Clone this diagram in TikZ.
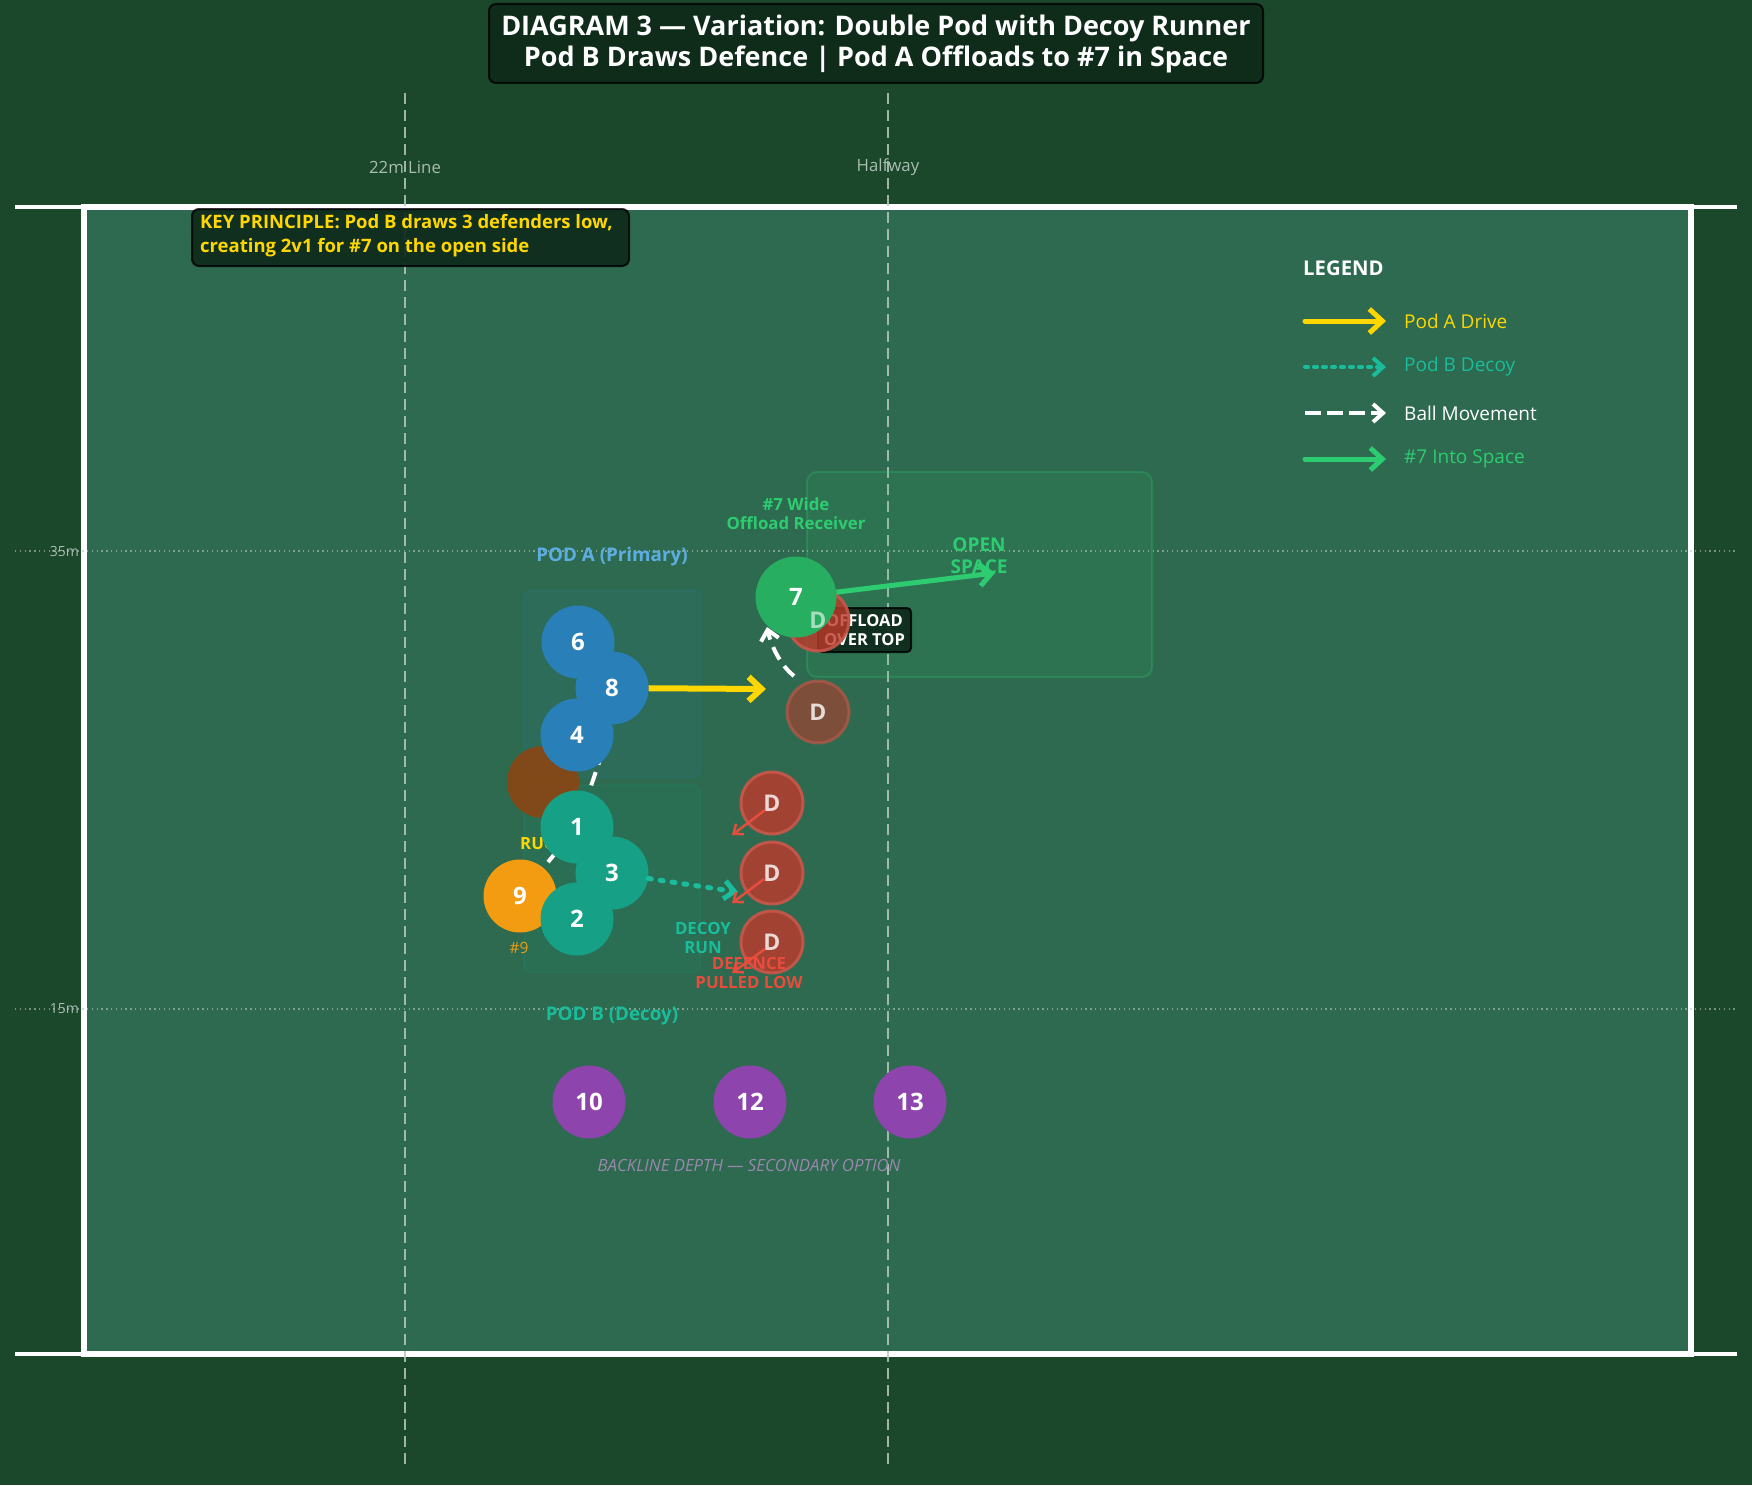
\documentclass[tikz,border=0pt]{standalone}
\usepackage{fontspec}
\setmainfont{Open Sans}
\usetikzlibrary{arrows.meta,calc}
\definecolor{bgout}{HTML}{1B472B}
\definecolor{fieldc}{HTML}{2D6A4F}
\definecolor{boxdark}{HTML}{0E2A1A}
\definecolor{podA}{HTML}{2980B9}
\definecolor{podB}{HTML}{16A085}
\definecolor{ninec}{HTML}{F39C12}
\definecolor{ruckc}{HTML}{8B4513}
\definecolor{dred}{HTML}{C0392B}
\definecolor{arrred}{HTML}{E74C3C}
\definecolor{purp}{HTML}{8E44AD}
\definecolor{sevenc}{HTML}{27AE60}
\definecolor{lgreen}{HTML}{2ECC71}
\definecolor{goldc}{HTML}{FFD700}
\definecolor{lblue}{HTML}{5DADE2}
\definecolor{tealc}{HTML}{1ABC9C}
\definecolor{linegray}{HTML}{B8C8BE}
\definecolor{lblgray}{HTML}{A9BDB0}
\definecolor{backc}{HTML}{9A87AE}
\tikzset{
  player/.style={circle, minimum size=73pt, inner sep=0pt, text=white, font=\bfseries\fontsize{24}{24}\selectfont},
  dcirc/.style={circle, minimum size=62pt, inner sep=0pt, fill=dred, fill opacity=0.8, draw=dred!85!white, draw opacity=0.9, line width=3pt, text=white, text opacity=0.8, font=\bfseries\fontsize{23}{23}\selectfont},
  dlet/.style={text=white, text opacity=0.6, font=\bfseries\fontsize{23}{23}\selectfont, inner sep=0pt},
  yard/.style={linegray, line width=2.5pt, dash pattern=on 11pt off 6pt, opacity=0.85},
  mline/.style={linegray, line width=1.3pt, dash pattern=on 1.4pt off 3.4pt, opacity=0.6},
  drive/.style={goldc, line width=6pt, -{Straight Barb[length=13pt,width=24pt]}},
  decoy/.style={tealc, line width=5pt, line cap=round, dash pattern=on 3pt off 9pt, -{Straight Barb[length=10pt,width=18pt]}},
  balldash/.style={white, line width=4pt, dash pattern=on 14pt off 8pt},
  ballarrow/.style={balldash, -{Straight Barb[length=10pt,width=18pt]}},
  space/.style={lgreen, line width=5pt, -{Straight Barb[length=12pt,width=22pt]}},
  pull/.style={arrred, line width=2.5pt, -{Straight Barb[length=8pt,width=13pt]}},
  darkbox/.style={fill=boxdark, fill opacity=0.92, draw=black, draw opacity=0.8, line width=2pt, rounded corners=7pt, text opacity=1},
  lbl/.style={inner sep=0pt, font=\bfseries\fontsize{16.8}{19}\selectfont, align=center},
}
\begin{document}
\begin{tikzpicture}[x=1pt,y=-1pt]
\fill[bgout] (0,0) rectangle (1752,1485);
\useasboundingbox (0,0) rectangle (1752,1485);
% field
\fill[fieldc] (84,207) rectangle (1691,1354);
\draw[white, line width=4.5pt] (15,207) -- (1737,207);
\draw[white, line width=4.5pt] (15,1354) -- (1737,1354);
\draw[white, line width=5.5pt] (84,207) rectangle (1691,1354);
% metre lines
\draw[mline] (15,551) -- (1737,551);
\draw[mline] (15,1009) -- (1737,1009);
\node[anchor=east, inner sep=0pt, text=lblgray, font=\fontsize{14}{14}\selectfont] (m35) at (79,551) {35m};
\node[anchor=east, inner sep=0pt, text=lblgray, font=\fontsize{14}{14}\selectfont] (m15) at (79,1009) {15m};
% yard lines
\draw[yard] (405,93) -- (405,1469);
\draw[yard] (888,93) -- (888,1469);
\node[text=lblgray, inner sep=0pt, font=\fontsize{16.8}{17}\selectfont] (l22) at (405,167) {22m Line};
\node[text=lblgray, inner sep=0pt, font=\fontsize{16.8}{17}\selectfont] (lhalf) at (888,167) {Halfway};
% zone boxes
\draw[rounded corners=6pt, fill=podA, fill opacity=0.1, draw=podA, draw opacity=0.15, line width=1.5pt] (524,590) rectangle (700,777);
\draw[rounded corners=6pt, fill=podB, fill opacity=0.1, draw=podB, draw opacity=0.15, line width=1.5pt] (524,785) rectangle (700,972);
\draw[rounded corners=10pt, fill=lgreen, fill opacity=0.1, draw=lgreen, draw opacity=0.25, line width=2pt] (807,472) rectangle (1152,677);
% title
\node[darkbox, minimum width=774pt, minimum height=79pt, align=center, text=white, font=\bfseries\fontsize{27}{31}\selectfont] (title) at (876,43.5) {DIAGRAM 3 — Variation: Double Pod with Decoy Runner\\Pod B Draws Defence | Pod A Offloads to \#7 in Space};
% key principle
\node[darkbox, anchor=north west, minimum width=437pt, minimum height=57pt] (key) at (191,208) {};
\node[anchor=west, inner sep=0pt, align=left, text=goldc, font=\bfseries\fontsize{18.5}{24}\selectfont] (keytxt) at (200,236) {KEY PRINCIPLE: Pod B draws 3 defenders low,\\creating 2v1 for \#7 on the open side};
% legend
\node[anchor=west, inner sep=0pt, text=white, font=\bfseries\fontsize{20.3}{21}\selectfont] (legend) at (1303,268) {LEGEND};
\coordinate (la1) at (1305,321); \coordinate (la2) at (1386,321);
\coordinate (lb1) at (1305,367); \coordinate (lb2) at (1386,367);
\coordinate (lc1) at (1305,413); \coordinate (lc2) at (1386,413);
\coordinate (ld1) at (1305,459); \coordinate (ld2) at (1386,459);
\draw[drive, line width=5pt, line cap=round] (la1) -- (la2);
\draw[decoy, line width=4pt, dash pattern=on 3pt off 6pt] (lb1) -- (lb2);
\draw[ballarrow, dash pattern=on 16pt off 6pt] (lc1) -- (lc2);
\draw[space, line cap=round] (ld1) -- (ld2);
\node[anchor=west, inner sep=0pt, text=goldc, font=\fontsize{19}{19}\selectfont] (lta) at (1404,321) {Pod A Drive};
\node[anchor=west, inner sep=0pt, text=tealc, font=\fontsize{19}{19}\selectfont] (ltb) at (1404,367) {Pod B Decoy};
\node[anchor=west, inner sep=0pt, text=white, font=\fontsize{19}{19}\selectfont] (ltc) at (1404,413) {Ball Movement};
\node[anchor=west, inner sep=0pt, text=lgreen, font=\fontsize{19}{19}\selectfont] (ltd) at (1404,459) {\#7 Into Space};
% labels
\node[lbl, text=lblue, font=\bfseries\fontsize{18.8}{19}\selectfont] (podAlbl) at (612,557) {POD A (Primary)};
\node[lbl, text=tealc, font=\bfseries\fontsize{18.8}{19}\selectfont] (podBlbl) at (612,1016) {POD B (Decoy)};
\node[lbl, text=lgreen] (sevenlbl) at (796,514) {\#7 Wide\\Offload Receiver};
\node[lbl, text=lgreen, font=\bfseries\fontsize{19}{22}\selectfont] (openlbl) at (979,556) {OPEN\\SPACE};
% positions of players
\coordinate (c6) at (578,642);
\coordinate (c8) at (612,688);
\coordinate (c4) at (577,735);
\coordinate (c1) at (577,827);
\coordinate (c3) at (612,873);
\coordinate (c2) at (577,919);
\coordinate (c9) at (520,896);
% ball movement lines under players
\coordinate (passEnd) at (606,742);
\draw[balldash] (c9) -- (c1);
\draw[balldash] (c1) -- (passEnd);
% ruck
\node[circle, minimum size=72pt, inner sep=0pt, fill=ruckc, fill opacity=0.9] (ruck) at (543,782) {};
\node[lbl, text=goldc] (rucklbl) at (543,843) {RUCK};
% pod A
\node[player, fill=podA] (p6) at (c6) {6};
\node[player, fill=podA] (p8) at (c8) {8};
\node[player, fill=podA] (p4) at (c4) {4};
% #9 and pod B
\node[player, fill=ninec] (p9) at (c9) {9};
\node[inner sep=0pt, text=ninec, font=\fontsize{15.5}{16}\selectfont] (ninelbl) at (519,948) {\#9};
\node[player, fill=podB] (p1) at (c1) {1};
\node[player, fill=podB] (p3) at (c3) {3};
\node[player, fill=podB] (p2) at (c2) {2};
% offload box
\node[darkbox, minimum width=93pt, minimum height=44pt, inner sep=2pt, rounded corners=4pt, align=center, text=white, font=\bfseries\fontsize{16.5}{19}\selectfont] (offload) at (864.5,630) {OFFLOAD\\OVER TOP};
% defenders
\node[dcirc] (dA) at (818,620) {};
\node[dcirc, fill opacity=0.55, draw opacity=0.6] (dB) at (818,712) {D};
\node[dcirc] (dC1) at (772,803) {D};
\node[dcirc] (dC2) at (772,873) {D};
\node[dcirc] (dC3) at (772,942) {D};
% ball to #7
\coordinate (ballS) at (794,676);
\coordinate (ballE) at (767,627);
\draw[ballarrow] (ballS) .. controls (780,665) and (771,645) .. (ballE);
% #7
\node[player, minimum size=81pt, fill=sevenc] (p7) at (796,597) {7};
\node[dlet] (dAlet) at (dA) {D};
% arrows
\coordinate (driveEnd) at (766,689);
\draw[drive] (p8) -- (driveEnd);
\coordinate (spaceEnd) at (995,573);
\draw[space] (p7) -- (spaceEnd);
\coordinate (decoyEnd) at (738,892);
\draw[decoy] (p3) -- (decoyEnd);
\draw[pull] ($(dC1)+(-7,7)$) -- ($(dC1)+(-40,32)$);
\draw[pull] ($(dC2)+(-8,6)$) -- ($(dC2)+(-40,30)$);
\draw[pull] ($(dC3)+(-7,7)$) -- ($(dC3)+(-40,31)$);
\node[lbl, text=tealc] (decoylbl) at (703,938) {DECOY\\RUN};
\node[lbl, text=arrred] (pulllbl) at (749,973) {DEFENCE\\PULLED LOW};
% backline
\node[player, fill=purp] (p10) at (589,1102) {10};
\node[player, fill=purp] (p12) at (750,1102) {12};
\node[player, fill=purp] (p13) at (910,1102) {13};
\node[inner sep=0pt, text=backc, font=\itshape\fontsize{16.8}{17}\selectfont] (backlbl) at (749,1165) {BACKLINE DEPTH — SECONDARY OPTION};
\end{tikzpicture}
\end{document}
